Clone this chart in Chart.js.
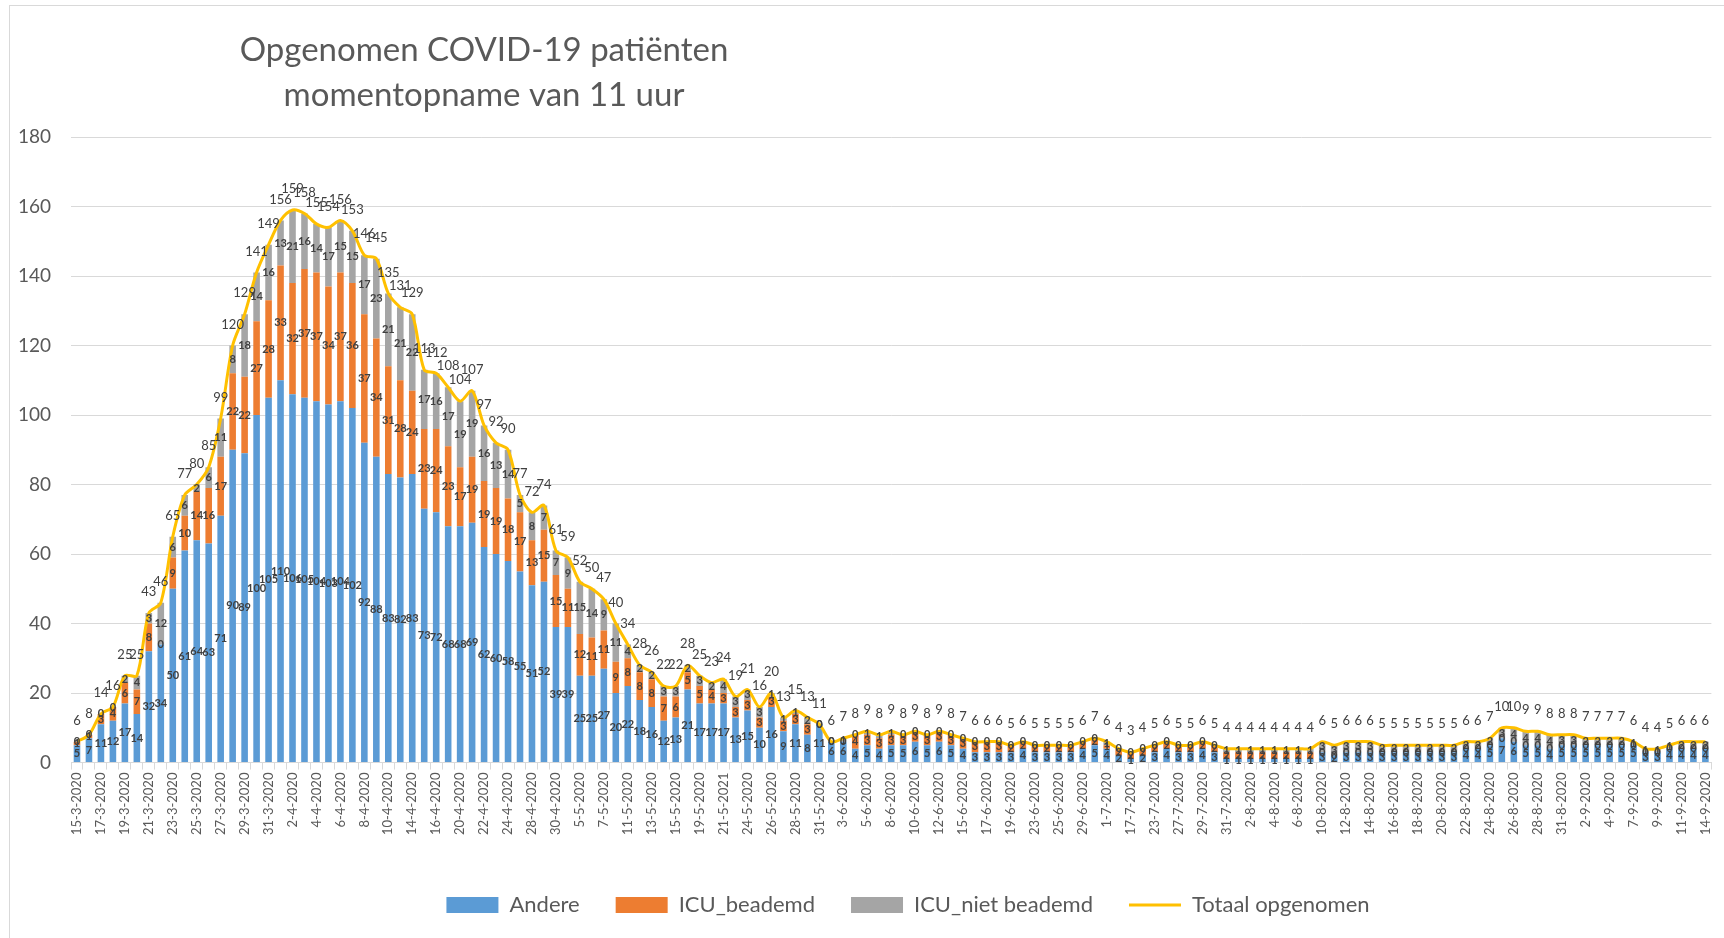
<!DOCTYPE html>
<html>
<head>
<meta charset="utf-8">
<script src="https://cdn.jsdelivr.net/npm/chart.js@4.4.0/dist/chart.umd.min.js"></script>
<style>
    html, body { margin: 0; padding: 0; background: #ffffff; }
    #wrap { position: relative; width: 1724px; height: 938px; }
</style>
</head>
<body>
<div id="wrap"><canvas id="grafiek" width="1724" height="938"></canvas></div>
<script>
// Titel van de grafiek (twee regels)
const titelRegels = ['Opgenomen COVID-19 patiënten', 'momentopname van 11 uur'];

// Datums (x-as)
const datums = [
    '15-3-2020', '16-3-2020', '17-3-2020', '18-3-2020', '19-3-2020', '20-3-2020', '21-3-2020', '22-3-2020', '23-3-2020', '24-3-2020',
    '25-3-2020', '26-3-2020', '27-3-2020', '28-3-2020', '29-3-2020', '30-3-2020', '31-3-2020', '1-4-2020', '2-4-2020', '3-4-2020',
    '4-4-2020', '5-4-2020', '6-4-2020', '7-4-2020', '8-4-2020', '9-4-2020', '10-4-2020', '13-4-2020', '14-4-2020', '15-4-2020',
    '16-4-2020', '17-4-2020', '20-4-2020', '21-4-2020', '22-4-2020', '23-4-2020', '24-4-2020', '27-4-2020', '28-4-2020', '29-4-2020',
    '30-4-2020', '4-5-2020', '5-5-2020', '6-5-2020', '7-5-2020', '8-5-2020', '11-5-2020', '12-5-2020', '13-5-2020', '14-5-2020',
    '15-5-2020', '18-5-2020', '19-5-2020', '20-5-2020', '21-5-2021', '22-5-2020', '24-5-2020', '25-5-2020', '26-5-2020', '27-5-2020',
    '28-5-2020', '29-5-2020', '31-5-2020', '2-6-2020', '3-6-2020', '4-6-2020', '5-6-2020', '7-6-2020', '8-6-2020', '9-6-2020',
    '10-6-2020', '11-6-2020', '12-6-2020', '14-6-2020', '15-6-2020', '16-6-2020', '17-6-2020', '18-6-2020', '19-6-2020', '22-6-2020',
    '23-6-2020', '24-6-2020', '25-6-2020', '26-6-2020', '29-6-2020', '30-6-2020', '1-7-2020', '15-7-2020', '17-7-2020', '20-7-2020',
    '23-7-2020', '24-7-2020', '27-7-2020', '28-7-2020', '29-7-2020', '30-7-2020', '31-7-2020', '1-8-2020', '2-8-2020', '3-8-2020',
    '4-8-2020', '5-8-2020', '6-8-2020', '7-8-2020', '10-8-2020', '11-8-2020', '12-8-2020', '13-8-2020', '14-8-2020', '15-8-2020',
    '16-8-2020', '17-8-2020', '18-8-2020', '19-8-2020', '20-8-2020', '21-8-2020', '22-8-2020', '23-8-2020', '24-8-2020', '25-8-2020',
    '26-8-2020', '27-8-2020', '28-8-2020', '29-8-2020', '31-8-2020', '1-9-2020', '2-9-2020', '3-9-2020', '4-9-2020', '5-9-2020',
    '7-9-2020', '8-9-2020', '9-9-2020', '10-9-2020', '11-9-2020', '12-9-2020', '14-9-2020'
];

// Andere (blauw)
const andere = [
    5, 7, 11, 12, 17, 14, 32, 34, 50, 61,
    64, 63, 71, 90, 89, 100, 105, 110, 106, 105,
    104, 103, 104, 102, 92, 88, 83, 82, 83, 73,
    72, 68, 68, 69, 62, 60, 58, 55, 51, 52,
    39, 39, 25, 25, 27, 20, 22, 18, 16, 12,
    13, 21, 17, 17, 17, 13, 15, 10, 16, 9,
    11, 8, 11, 6, 6, 4, 5, 4, 5, 5,
    6, 5, 6, 5, 4, 3, 3, 3, 3, 4,
    3, 3, 3, 3, 4, 5, 4, 2, 1, 2,
    3, 4, 3, 3, 4, 3, 1, 1, 1, 1,
    1, 1, 1, 1, 3, 2, 3, 3, 3, 3,
    3, 3, 3, 3, 3, 3, 4, 4, 5, 7,
    6, 5, 5, 4, 5, 5, 5, 5, 5, 5,
    5, 3, 3, 4, 4, 4, 4
];

// ICU beademd (oranje)
const icuBeademd = [
    1, 1, 3, 4, 6, 7, 8, 0, 9, 10,
    14, 16, 17, 22, 22, 27, 28, 33, 32, 37,
    37, 34, 37, 36, 37, 34, 31, 28, 24, 23,
    24, 23, 17, 19, 19, 19, 18, 17, 13, 15,
    15, 11, 12, 11, 11, 9, 8, 8, 8, 7,
    6, 5, 5, 4, 3, 3, 3, 3, 3, 3,
    3, 3, 0, 0, 0, 4, 3, 3, 3, 3,
    3, 3, 3, 3, 3, 3, 3, 3, 2, 2,
    2, 2, 2, 2, 2, 2, 1, 2, 2, 2,
    2, 2, 2, 2, 2, 2, 2, 2, 2, 2,
    2, 2, 2, 2, 0, 0, 0, 0, 0, 0,
    0, 0, 0, 0, 0, 0, 0, 0, 0, 0,
    0, 0, 0, 0, 0, 0, 0, 0, 0, 0,
    0, 0, 0, 0, 0, 0, 0
];

// ICU niet beademd (grijs)
const icuNietBeademd = [
    0, 0, 0, 0, 2, 4, 3, 12, 6, 6,
    2, 6, 11, 8, 18, 14, 16, 13, 21, 16,
    14, 17, 15, 15, 17, 23, 21, 21, 22, 17,
    16, 17, 19, 19, 16, 13, 14, 5, 8, 7,
    7, 9, 15, 14, 9, 11, 4, 2, 2, 3,
    3, 2, 3, 2, 4, 3, 3, 3, 1, 1,
    1, 2, 0, 0, 1, 0, 1, 1, 1, 0,
    0, 0, 0, 0, 0, 0, 0, 0, 0, 0,
    0, 0, 0, 0, 0, 0, 1, 0, 0, 0,
    0, 0, 0, 0, 0, 0, 1, 1, 1, 1,
    1, 1, 1, 1, 3, 3, 3, 3, 3, 2,
    2, 2, 2, 2, 2, 2, 2, 2, 2, 3,
    4, 4, 4, 4, 3, 3, 2, 2, 2, 2,
    1, 1, 1, 1, 2, 2, 2
];

// Totaal opgenomen (lijn)
const totaal = [
    6, 8, 14, 16, 25, 25, 43, 46, 65, 77,
    80, 85, 99, 120, 129, 141, 149, 156, 159, 158,
    155, 154, 156, 153, 146, 145, 135, 131, 129, 113,
    112, 108, 104, 107, 97, 92, 90, 77, 72, 74,
    61, 59, 52, 50, 47, 40, 34, 28, 26, 22,
    22, 28, 25, 23, 24, 19, 21, 16, 20, 13,
    15, 13, 11, 6, 7, 8, 9, 8, 9, 8,
    9, 8, 9, 8, 7, 6, 6, 6, 5, 6,
    5, 5, 5, 5, 6, 7, 6, 4, 3, 4,
    5, 6, 5, 5, 6, 5, 4, 4, 4, 4,
    4, 4, 4, 4, 6, 5, 6, 6, 6, 5,
    5, 5, 5, 5, 5, 5, 6, 6, 7, 10,
    10, 9, 9, 8, 8, 8, 7, 7, 7, 7,
    6, 4, 4, 5, 6, 6, 6
];

// Y-as
const yMin = 0;
const yMax = 180;
const yStap = 20;

const tekstKleur = '#595959';
const labelKleur = '#404040';
const lettertype = 'Lato, "Open Sans", sans-serif';

// Kader, titel en legendapositie
const kaderEnTitel = {
    id: 'kaderEnTitel',
    afterLayout(chart) {
        // legenda iets naar rechts, zoals in het origineel
        chart.legend.left += 40;
        chart.legend.right += 40;
    },
    beforeDraw(chart) {
        const ctx = chart.ctx;
        ctx.save();
        ctx.fillStyle = '#ffffff';
        ctx.fillRect(0, 0, chart.width, chart.height);
        ctx.strokeStyle = '#d9d9d9';
        ctx.lineWidth = 1;
        ctx.strokeRect(9.5, 5.5, chart.width + 20, chart.height + 20);
        ctx.restore();
    },
    afterDraw(chart) {
        const ctx = chart.ctx;
        ctx.save();
        ctx.fillStyle = tekstKleur;
        ctx.font = '33px ' + lettertype;
        ctx.textAlign = 'center';
        ctx.textBaseline = 'middle';
        ctx.fillText(titelRegels[0], 484, 50);
        ctx.fillText(titelRegels[1], 484, 95);
        ctx.restore();
    }
};

// Waarden bij de staven en de lijn
const waardeLabels = {
    id: 'waardeLabels',
    afterDatasetsDraw(chart) {
        const ctx = chart.ctx;
        ctx.save();
        ctx.textAlign = 'center';
        ctx.textBaseline = 'middle';
        ctx.fillStyle = labelKleur;
        chart.data.datasets.forEach((ds, di) => {
            const meta = chart.getDatasetMeta(di);
            if (!chart.isDatasetVisible(di)) return;
            meta.data.forEach((el, i) => {
                const v = ds.data[i];
                if (ds.type === 'line') {
                    ctx.font = '13px ' + lettertype;
                    ctx.fillText(String(v), el.x, el.y - 21);
                } else {
                    const p = el.getProps(['x', 'y', 'base'], true);
                    ctx.font = 'bold 11px ' + lettertype;
                    ctx.fillText(String(v), p.x, (p.y + p.base) / 2);
                }
            });
        });
        ctx.restore();
    }
};

// Grafiek maken
const ctx = document.getElementById('grafiek').getContext('2d');
new Chart(ctx, {
    type: 'bar',
    data: {
        labels: datums,
        datasets: [
            {
                label: 'Andere',
                data: andere,
                backgroundColor: '#5B9BD5',
                borderWidth: 0,
                stack: 'opname',
                order: 1,
                pointStyle: 'rect',
                barPercentage: 0.55,
                categoryPercentage: 1
            },
            {
                label: 'ICU_beademd',
                data: icuBeademd,
                backgroundColor: '#ED7D31',
                borderWidth: 0,
                stack: 'opname',
                order: 1,
                pointStyle: 'rect',
                barPercentage: 0.55,
                categoryPercentage: 1
            },
            {
                label: 'ICU_niet beademd',
                data: icuNietBeademd,
                backgroundColor: '#A5A5A5',
                borderWidth: 0,
                stack: 'opname',
                order: 1,
                pointStyle: 'rect',
                barPercentage: 0.55,
                categoryPercentage: 1
            },
            {
                type: 'line',
                label: 'Totaal opgenomen',
                data: totaal,
                borderColor: '#FFC000',
                backgroundColor: '#FFC000',
                borderWidth: 3,
                pointRadius: 0,
                tension: 0.3,
                stack: 'totaal',
                order: 0,
                pointStyle: 'line'
            }
        ]
    },
    options: {
        responsive: false,
        animation: false,
        layout: { padding: { top: 137, left: 16, right: 4, bottom: 12 } },
        plugins: {
            title: { display: false },
            tooltip: { enabled: false },
            legend: {
                position: 'bottom',
                labels: {
                    usePointStyle: true,
                    pointStyleWidth: 52,
                    boxHeight: 16,
                    padding: 36,
                    color: tekstKleur,
                    font: { family: lettertype, size: 22 },
                    sort: (a, b) => a.datasetIndex - b.datasetIndex
                }
            }
        },
        scales: {
            x: {
                stacked: true,
                grid: { drawOnChartArea: false, color: '#d9d9d9', tickLength: 7 },
                border: { color: '#d9d9d9' },
                ticks: {
                    autoSkip: false,
                    minRotation: 90,
                    maxRotation: 90,
                    padding: 3,
                    color: tekstKleur,
                    font: { family: lettertype, size: 13 },
                    callback: function (v, i) {
                        return i % 2 === 0 ? this.getLabelForValue(v) : '';
                    }
                },
                afterFit: (scale) => { scale.height += 20; }
            },
            y: {
                stacked: true,
                min: yMin,
                max: yMax,
                grid: { color: '#d9d9d9', drawTicks: false },
                border: { display: false },
                ticks: {
                    stepSize: yStap,
                    padding: 20,
                    color: tekstKleur,
                    font: { family: lettertype, size: 19 }
                },
                afterFit: (scale) => { scale.width = 55; }
            }
        }
    },
    plugins: [kaderEnTitel, waardeLabels]
});
</script>
</body>
</html>
